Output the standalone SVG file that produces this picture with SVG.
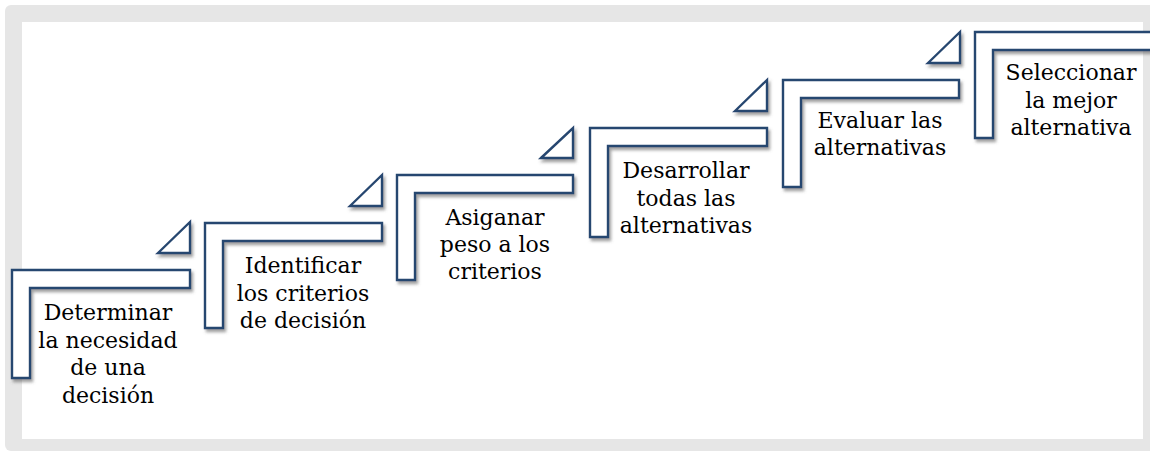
<svg xmlns="http://www.w3.org/2000/svg" width="1150" height="451" viewBox="0 0 1150 451">
<defs>
<filter id="sh" x="-10%" y="-10%" width="130%" height="140%">
<feDropShadow dx="2" dy="3" stdDeviation="1.6" flood-color="#555" flood-opacity="0.55"/>
</filter>
<style>
.step{fill:#ffffff;stroke:#27466f;stroke-width:2.4;stroke-linejoin:miter;filter:url(#sh)}
.tri{fill:#ffffff;stroke:#27466f;stroke-width:2.4;filter:url(#sh)}
.lbl{font-family:"DejaVu Serif","Liberation Serif",serif;font-size:22px;fill:#000;text-anchor:middle}
</style>
</defs>
<rect x="5" y="5" width="1165" height="446" rx="6" fill="#e6e6e6"/>
<rect x="22" y="22" width="1121" height="417" fill="#ffffff"/>
<g id="connectors">
<polygon class="tri" points="158,253 190,222 190,253"/>
<polygon class="tri" points="350,206 382,175 382,206"/>
<polygon class="tri" points="541,158 573,128 573,158"/>
<polygon class="tri" points="735,111 767,80 767,111"/>
<polygon class="tri" points="928,63 960,32 960,63"/>
</g>
<g id="step1">
<path class="step" d="M12,270 H190 V288 H30 V378 H12 Z"/>
<text class="lbl" x="108" y="320">Determinar</text>
<text class="lbl" x="108" y="348">la necesidad</text>
<text class="lbl" x="108" y="375">de una</text>
<text class="lbl" x="108" y="403">decisión</text>
</g>
<g id="step2">
<path class="step" d="M205,223 H382 V241 H223 V328 H205 Z"/>
<text class="lbl" x="303" y="273">Identificar</text>
<text class="lbl" x="303" y="301">los criterios</text>
<text class="lbl" x="303" y="328">de decisión</text>
</g>
<g id="step3">
<path class="step" d="M397,175 H573 V193 H415 V280 H397 Z"/>
<text class="lbl" x="495" y="225">Asiganar</text>
<text class="lbl" x="495" y="252">peso a los</text>
<text class="lbl" x="495" y="279">criterios</text>
</g>
<g id="step4">
<path class="step" d="M590,128 H767 V146 H608 V237 H590 Z"/>
<text class="lbl" x="686" y="178">Desarrollar</text>
<text class="lbl" x="686" y="206">todas las</text>
<text class="lbl" x="686" y="233">alternativas</text>
</g>
<g id="step5">
<path class="step" d="M783,80 H959 V98 H801 V187 H783 Z"/>
<text class="lbl" x="880" y="128">Evaluar las</text>
<text class="lbl" x="880" y="155">alternativas</text>
</g>
<g id="step6">
<path class="step" d="M975,32 H1160 V50 H993 V138 H975 Z"/>
<text class="lbl" x="1071" y="80">Seleccionar</text>
<text class="lbl" x="1071" y="108">la mejor</text>
<text class="lbl" x="1071" y="135">alternativa</text>
</g>
</svg>
